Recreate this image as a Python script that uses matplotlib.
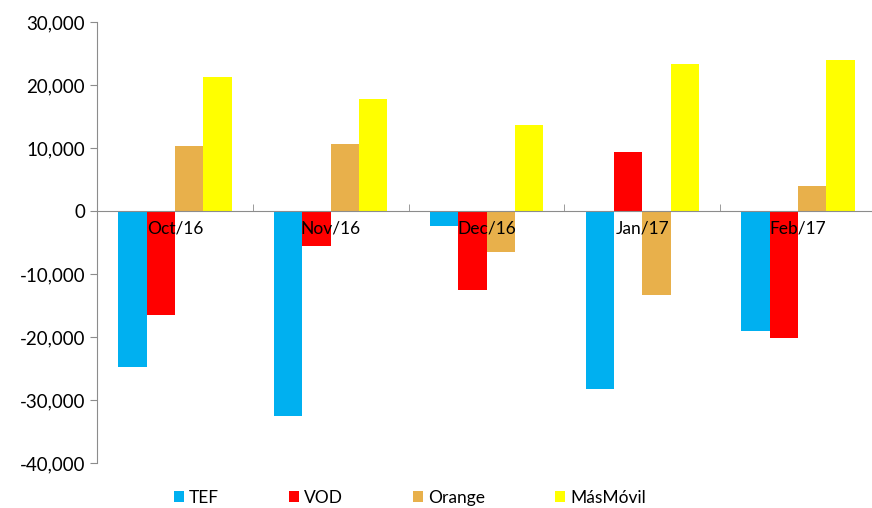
import numpy as np
from matplotlib import pyplot as plt

months = ["Oct/16", "Nov/16", "Dec/16", "Jan/17", "Feb/17"]
tef = [-24800, -32500, -2400, -28200, -19000]
vod = [-16500, -5600, -12500, 9400, -20100]
orange = [10300, 10600, -6500, -13300, 4000]
masmovil = [21300, 17700, 13600, 23300, 23900]

series = [("TEF", tef, "#00B0F0"), ("VOD", vod, "#FF0000"),
          ("Orange", orange, "#E8B04B"), ("MásMóvil", masmovil, "#FFFF00")]

plt.rcParams['font.family'] = ['Lato', 'DejaVu Sans']

fig = plt.figure(figsize=(8.72, 5.08), dpi=100)
ax = fig.add_axes([97/872, 45/508, 779/872, 441/508])

x = np.arange(len(months))
w = 0.182
for i, (name, vals, col) in enumerate(series):
    ax.bar(x + (i - 1.5) * w, vals, w, color=col, label=name, zorder=2)

ax.set_axisbelow(False)
ax.set_xlim(-0.5, 4.5)
ax.set_ylim(-40000, 30000)
ax.set_yticks(range(-40000, 30001, 10000))
ax.set_yticklabels([f"{v:,}" for v in range(-40000, 30001, 10000)], fontsize=13.5)

ax.spines['top'].set_visible(False)
ax.spines['right'].set_visible(False)
ax.spines['left'].set_color('#8c8c8c')
ax.spines['bottom'].set_position(('data', 0))
ax.spines['bottom'].set_color('#8c8c8c')
ax.spines['bottom'].set_zorder(3)

ax.set_xticks(x)
ax.set_xticklabels(months, fontsize=12.5)
ax.tick_params(axis='x', length=0, pad=7)
ax.set_xticks(np.arange(-0.5, 4.6, 1), minor=True)
ax.tick_params(axis='x', which='minor', length=5, direction='in', color='#8c8c8c')
ax.tick_params(axis='y', length=5, color='#8c8c8c')

fig.legend(loc='center', bbox_to_anchor=(0.47, 0.02), ncol=4, frameon=False,
           fontsize=12.5, handlelength=0.6, handleheight=0.6, handletextpad=0.3,
           columnspacing=4.0)

fig.savefig("out.png", dpi=100)
